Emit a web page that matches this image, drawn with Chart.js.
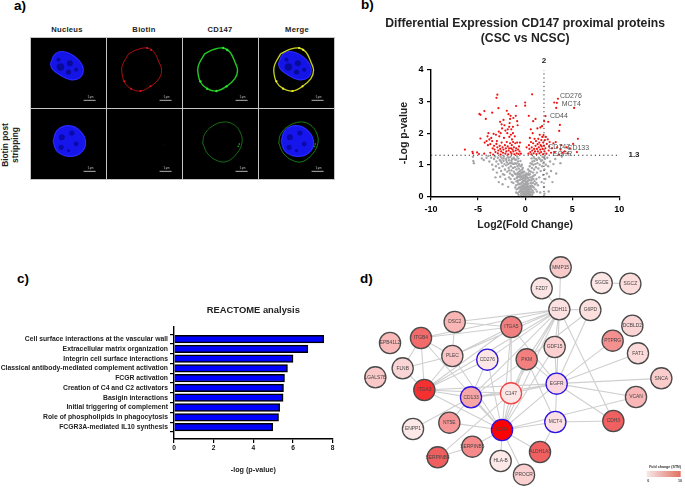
<!DOCTYPE html>
<html>
<head>
<meta charset="utf-8">
<title>CD147 proximal proteins</title>
<script src="https://cdn.jsdelivr.net/npm/chart.js@4"></script>
<style>
  html, body { margin: 0; background: #fff; }
  #page { position: relative; width: 685px; height: 488px; overflow: hidden; font-family: "Liberation Sans", Arial, sans-serif; color: #111; }
  canvas { position: absolute; }
  canvas.tile { filter: blur(0.35px); outline: 1px solid #c4c4c4; }
  .txt { position: absolute; font-weight: bold; white-space: nowrap; }
  .letter { font-size: 13.5px; color: #000; }
  .col { font-size: 7.6px; letter-spacing: 0.3px; transform: translateX(-50%); color: #222; }
  .side { font-size: 8.4px; text-align: center; line-height: 10px; transform: translate(-50%, -50%) rotate(-90deg); color: #222; }
</style>
</head>
<body>
<div id="page">
  <div class="txt letter" style="left:14px;top:-2px">a)</div>
  <div class="txt letter" style="left:361px;top:-3px">b)</div>
  <div class="txt letter" style="left:17px;top:271px">c)</div>
  <div class="txt letter" style="left:360px;top:271px">d)</div>
  <div class="txt col" style="left:67px;top:25px">Nucleus</div>
  <div class="txt col" style="left:144px;top:25px">Biotin</div>
  <div class="txt col" style="left:220px;top:25px">CD147</div>
  <div class="txt col" style="left:297px;top:25px">Merge</div>
  <div class="txt side" style="left:10px;top:145px">Biotin post<br>stripping</div>
  <canvas class="tile" id="t00" width="75" height="70" style="left:31px;top:38px"></canvas>
  <canvas class="tile" id="t01" width="75" height="70" style="left:107px;top:38px"></canvas>
  <canvas class="tile" id="t02" width="75" height="70" style="left:183px;top:38px"></canvas>
  <canvas class="tile" id="t03" width="75" height="70" style="left:259px;top:38px"></canvas>
  <canvas class="tile" id="t10" width="75" height="70" style="left:31px;top:109px"></canvas>
  <canvas class="tile" id="t11" width="75" height="70" style="left:107px;top:109px"></canvas>
  <canvas class="tile" id="t12" width="75" height="70" style="left:183px;top:109px"></canvas>
  <canvas class="tile" id="t13" width="75" height="70" style="left:259px;top:109px"></canvas>
  <canvas id="volcano" width="320" height="240" style="left:365px;top:0"></canvas>
  <canvas id="reactome" width="345" height="228" style="left:0;top:260px"></canvas>
  <canvas id="network" width="355" height="238" style="left:330px;top:250px"></canvas>
</div>
<script>
const sans = '"Liberation Sans", Arial, sans-serif';

const nucleusTop = [[58,77],[73,47],[103,42],[138,62],[156,92],[146,119],[118,125],[83,109],[63,92],[58,77]];
const nucleusTopSpots = [[88,87,3.8],[116,76,3],[112,102,2.6],[82,65,2],[135,95,2]];
const nucleusBottom = [[66,97],[78,64],[113,50],[148,67],[163,102],[148,132],[113,142],[78,127],[66,97]];
const nucleusBottomSpots = [[92,85,3],[122,72,2.6],[135,105,2.4],[90,115,2.6],[112,125,1.6]];
const ringTop = [[65,47],[90,35],[120,30],[140,42],[155,72],[163,97],[155,122],[130,145],[100,159],[72,152],[52,132],[44,97],[48,77],[65,47]];
const ringTopSpots = [[120,30],[132,36],[72,152],[100,159],[52,130],[130,145]];
const ringBottom = [[59,102],[64,77],[87,52],[122,39],[152,47],[172,72],[176,102],[162,132],[132,157],[102,155],[72,132],[59,102]];
const ringBottomSpots = [[168,105],[165,112]];
const biotinResidue = [[170,105]];
const scaleBarX = [157, 193];
const scaleBarY = [187, 187];
const scaleText = ['5 µm'];

// panel b: volcano, significant points (red) and the rest (grey)
const sigPoints = [
[-6.4,1.48],[-5.6,1.41],[-5.55,1.36],[-5.1,1.39],[-4.9,1.34],[-4.75,1.83],[-4.35,1.35],[-4.3,1.7],[-4.1,1.75],[-4,1.9],
[-3.9,2.0],[-3.95,1.62],[-3.8,1.8],[-3.7,1.65],[-3.6,1.85],[-3.5,1.75],[-3.45,1.52],[-3.7,1.38],[-3.4,1.32],[-3.3,1.6],
[-3.25,1.48],[-3.15,1.4],[-3.1,1.95],[-3.05,1.66],[-3,1.75],[-2.95,1.55],[-2.9,1.36],[-2.85,1.45],[-2.8,2.05],[-2.75,1.9],
[-2.7,1.6],[-2.65,1.5],[-2.6,1.32],[-2.55,1.42],[-2.5,1.7],[-2.45,2.15],[-2.4,1.55],[-2.35,1.38],[-2.3,1.48],[-2.25,1.85],
[-2.2,2.25],[-2.15,1.62],[-2.1,1.35],[-2.05,1.52],[-2,1.42],[-1.95,1.72],[-1.9,2.0],[-1.85,1.58],[-1.8,1.33],[-1.75,1.45],
[-1.7,1.52],[-1.68,1.88],[-1.65,2.32],[-1.6,1.68],[-1.55,1.4],[-1.52,1.95],[-1.5,1.52],[-1.47,2.12],[-1.45,1.35],[-1.42,1.62],
[-1.4,1.8],[-1.35,1.48],[-1.3,2.0],[-1.28,1.72],[-1.25,1.42],[-1.2,1.55],[-1.15,1.33],[-1.1,1.9],[-1.05,1.68],[-1,1.45],
[-0.95,1.52],[-0.9,1.36],[-0.85,1.7],[-0.8,2.25],[-0.75,1.48],[-0.7,1.34],[-0.65,1.58],[-0.6,1.42],[-0.55,1.7],[-0.45,1.35],
[-2.95,3.22],[-3.05,3.12],[-2.84,2.79],[-4.86,2.61],[-4.75,2.58],[-4.33,2.7],[-4.18,2.45],[-3.5,2.65],[-2.66,2.36],[-1.95,2.71],
[-1.77,2.6],[-0.96,2.86],[0,2.97],[0,2.87],[0.74,3.23],[0.39,2.55],[0.85,2.38],[2.16,2.54],[2.02,2.38],[2.45,2.36],
[3.09,2.97],[3.48,3.09],[3.37,2.96],[3.3,2.8],[5.2,2.8],[3.69,2.26],[3.62,2.07],[-2.5,2.28],[-2.3,2.42],[-2.1,2.08],
[-1.6,2.45],[-1.55,2.55],[-1.3,2.2],[-1.25,2.48],[-1,2.55],[-0.85,2.38],[-1.85,2.12],[-3.35,1.98],[-2.6,2.0],[-1.7,2.2],
[0.35,1.35],[0.4,1.62],[0.45,1.5],[0.5,1.85],[0.55,1.4],[0.6,2.12],[0.62,1.72],[0.65,1.33],[0.7,1.55],[0.75,1.45],
[0.8,2.0],[0.85,1.68],[0.9,1.36],[0.95,1.5],[1,1.82],[1.05,1.42],[1.1,1.6],[1.15,1.75],[1.2,1.34],[1.25,1.5],
[1.3,2.15],[1.32,1.65],[1.35,1.42],[1.4,1.82],[1.45,1.55],[1.5,1.7],[1.52,1.36],[1.55,1.95],[1.6,1.48],[1.62,2.18],
[1.65,1.62],[1.7,1.4],[1.72,1.78],[1.75,1.58],[1.8,2.22],[1.82,1.88],[1.85,1.5],[1.9,1.33],[1.92,1.7],[1.95,1.94],
[2,1.6],[2.05,1.42],[2.1,1.78],[2.15,1.52],[2.2,1.88],[2.25,1.35],[2.3,1.66],[2.4,1.8],[2.5,1.45],[2.55,1.58],
[2.6,1.72],[2.75,1.38],[2.85,1.52],[3,1.68],[3.15,1.4],[3.25,1.72],[3.4,1.55],[3.6,1.32],[3.75,1.48],[3.85,1.62],
[3.95,1.38],[4.2,1.42],[4.5,1.36],[4.75,1.52],[5.1,1.66],[5.6,1.82],[5.5,1.4],[4.4,1.55],[1.1,2.45],[0.15,1.55]
];
const otherPoints = [
[-5.55,1.25],[-5.5,1.12],[-5.45,1.05],[-4.6,1.2],[-4.4,1.15],[-4.1,1.22],[-3.9,1.28],[-3.8,1.1],[-3.6,1.22],[-3.5,1.0],
[-3.4,0.85],[-3.3,1.18],[-3.2,1.26],[-3.1,0.95],[-3.05,1.1],[-3,0.75],[-2.9,1.22],[-2.85,1.02],[-2.75,0.9],[-2.7,1.15],
[-2.65,0.62],[-2.6,1.25],[-2.55,0.8],[-2.5,1.06],[-2.45,1.2],[-2.4,0.95],[-2.35,0.7],[-2.3,1.12],[-2.25,1.26],[-2.2,1.02],
[-2.15,0.85],[-2.1,0.55],[-2.05,1.18],[-2,0.98],[-1.95,1.08],[-1.9,0.78],[-1.85,1.24],[-1.8,1.02],[-1.75,0.9],[-1.72,0.6],
[-1.7,1.14],[-1.65,1.05],[-1.6,0.72],[-1.55,1.25],[-1.52,0.95],[-1.5,1.05],[-1.45,0.82],[-1.42,0.45],[-1.4,1.18],[-1.35,1.04],
[-1.32,0.65],[-1.3,0.9],[-1.25,1.02],[-1.22,1.22],[-1.2,0.78],[-1.15,1.04],[-1.12,0.55],[-1.1,0.92],[-1.05,1.16],[-1,1.04],
[-0.98,0.7],[-0.95,0.35],[-0.92,0.85],[-0.9,1.04],[-0.88,0.58],[-0.85,1.26],[-0.82,0.95],[-0.8,0.45],[-0.78,0.75],[-0.75,1.1],
[-0.72,0.25],[-0.7,0.62],[-0.68,0.88],[-0.65,1.02],[-0.62,0.4],[-0.6,0.7],[-0.58,0.15],[-0.55,0.52],[-0.52,0.82],[-0.5,1.12],
[-0.48,0.3],[-0.46,0.62],[-0.44,0.95],[-0.42,0.08],[-0.4,0.42],[-0.38,0.72],[-0.36,0.22],[-0.34,0.55],[-0.32,0.85],[-0.3,0.12],
[-0.28,0.35],[-0.26,0.65],[-0.24,0.48],[-0.22,0.05],[-0.2,0.25],[-0.18,0.75],[-0.16,0.4],[-0.14,0.58],[-0.12,0.15],[-0.1,0.32],
[-0.08,0.03],[-0.06,0.5],[-0.04,0.22],[-0.02,0.68],[0,0.1],[0.02,0.38],[0.04,0.02],[0.06,0.55],[0.08,0.18],[0.1,0.3],
[0.12,0.72],[0.14,0.06],[0.16,0.44],[0.18,0.25],[0.2,0.14],[0.22,0.6],[0.24,0.34],[0.26,0.02],[0.28,0.5],[0.3,0.2],
[0.32,0.85],[0.34,0.1],[0.36,0.4],[0.38,0.28],[0.4,0.68],[0.42,0.04],[0.44,0.16],[0.46,0.52],[0.48,0.95],[0.5,0.32],
[0.52,0.1],[0.54,0.6],[0.56,0.22],[0.58,1.05],[0.6,0.42],[0.62,0.78],[0.64,0.14],[0.66,0.5],[0.68,1.2],[0.7,0.3],
[0.72,0.9],[0.74,0.05],[0.76,0.62],[0.78,1.1],[0.8,0.18],[0.82,0.42],[0.84,0.75],[0.86,1.0],[0.88,0.55],[0.9,1.25],
[0.92,0.28],[0.95,0.85],[0.98,1.12],[1,0.48],[1.05,0.68],[1.08,1.02],[1.1,0.22],[1.15,0.92],[1.18,1.18],[1.2,0.55],
[1.25,0.75],[1.3,1.05],[1.35,0.35],[1.4,0.88],[1.45,1.22],[1.5,0.6],[1.55,1.0],[1.6,0.12],[1.65,0.8],[1.7,1.12],
[1.75,0.45],[1.8,0.95],[1.85,1.25],[1.9,0.68],[1.95,1.05],[2,0.3],[2.05,0.85],[2.1,1.18],[2.15,0.55],[2.2,1.0],
[2.3,0.72],[2.35,1.22],[2.45,0.95],[2.5,0.15],[2.55,0.62],[2.65,1.1],[2.75,0.8],[2.9,0.45],[3,1.02],[3.2,1.18],
[3.3,0.72],[3.75,1.05],[3.9,1.26],[2.05,0.08],[-0.6,0.98],[-0.95,0.12],[-1.25,0.42],[-1.55,0.55],[-1.8,0.3],[-2.4,0.38],
[-3.15,0.6],[-2.8,0.45],[-0.35,1.0],[-0.25,0.9],[-0.7,0.05],[-0.5,0.18],[-0.45,0.02],[-0.3,0.45],[-0.15,0.08],[-0.05,0.14],
[0.05,0.28],[0.15,0.12],[0.25,0.4],[0.35,0.06],[0.45,0.24],[0.55,0.02],[0.65,0.34],[0.75,0.12],[-0.65,0.28],[-0.55,0.38],
[-0.4,0.58],[-0.2,0.62],[-0.1,0.78],[0,0.48],[0.1,0.64],[0.2,0.46],[0.3,0.58],[0.4,0.5],[-0.75,0.5],[-0.85,0.7],
[-0.35,0.14],[-0.25,0.26],[-0.15,0.3],[-0.05,0.38],[0.05,0.1],[0.15,0.32],[0.25,0.22],[0.35,0.3],[-0.45,0.3],[-0.55,0.6],
[-0.62,0.78],[-0.18,0.5],[-0.02,0.26],[0.08,0.42],[0.28,0.1],[0.5,0.7],[0.7,0.55],[0.9,0.65],[1.05,0.38],[1.25,0.15],
[-0.9,0.22],[-0.8,0.1],[-0.72,0.38],[-0.62,0.14],[-0.52,0.25],[-0.42,0.2],[-0.32,0.32],[-0.22,0.16],[-0.12,0.24],[-0.02,0.05],
[0.08,0.08],[0.18,0.36],[0.28,0.28],[0.38,0.16],[0.48,0.06],[0.58,0.3],[0.68,0.22],[0.78,0.32],[0.88,0.12],[-0.92,0.48],
[-0.82,0.62],[-0.72,0.7],[-0.52,0.66],[-0.42,0.75],[-0.28,0.78],[-0.12,0.66],[0.02,0.6],[0.18,0.68],[0.34,0.72],[0.44,0.8],
[-2.6,1.12],[-2.3,1.2],[-2,1.15],[-1.75,1.22],[-1.45,1.12],[-1.15,1.18],[-0.95,1.16],[-0.72,1.2],[0.7,1.02],[1,1.2],
[1.25,1.15],[1.55,1.18],[1.8,1.14],[2.05,1.25],[-1.1,0.72],[-1.4,0.68],[-1.7,0.82],[-2.2,0.68],[-1.05,0.28],[1.2,0.42]
];
const thresholdFoldX = [2, 2];
const thresholdFoldY = [0, 4];
const thresholdPX = [-10, 10];
const thresholdPY = [1.3, 1.3];
const geneNames = ['CD276', 'MCT4', 'CD44', 'CD147', 'CD133', 'EGFR'];
const geneX = [3.7, 3.89, 2.64, 2.46, 4.48, 2.93];
const geneY = [3.19, 2.91, 2.53, 1.57, 1.54, 1.34];
const thresholdText = ['2', '1.3'];
const thresholdTextX = [2, 11.56];
const thresholdTextY = [4.3, 1.3];
const volcanoTitle = ['Differential Expression CD147 proximal proteins', '(CSC vs NCSC)'];
const volcanoTitleX = [0, 0];
const volcanoTitleY = [5.46, 5.0];

// panel c: REACTOME pathways
const pathways = [
  'Cell surface interactions at the vascular wall',
  'Extracellular matrix organization',
  'Integrin cell surface interactions',
  'Classical antibody-mediated complement activation',
  'FCGR activation',
  'Creation of C4 and C2 activators',
  'Basigin interactions',
  'Initial triggering of complement',
  'Role of phospholipids in phagocytosis',
  'FCGR3A-mediated IL10 synthesis'
];
const pathwayValues = [7.55, 6.75, 6.0, 5.72, 5.57, 5.52, 5.5, 5.33, 5.27, 4.98];

// panel d: protein network
const nodeNames = ['MMP15','FZD7','SGCE','SGCZ','CDH11','G6PD','DCBLD2','DSC2','ITGA5','ITGB4','EPB41L2','GDF15','PTPRG','FAT1','PLEC','CD276','PKM','FLNB','LGALS7B','SNCA','EGFR','C147','CD133','ITGA3','VCAN','NT5E','MCT4','CD44','ENPP1','CDH3','SERPINB5','SERPINB4','ALDH1A3','HLA-B','PROCR'];
const nodeX = [692,635,815,901,688,781,907,374,544,273,180,674,848,924,367,472,590,218,136,994,680,543,423,283,918,358,676,516,249,850,427,323,630,512,582];
const nodeY = [52,115,99,101,178,180,227,216,231,264,279,291,272,310,318,329,328,355,382,385,401,430,442,420,441,518,516,540,537,513,590,622,606,633,674];
const nodeFill = ['#f9caca','#fde4e4','#fde6e6','#fddcdc','#fde0e0','#fde0de','#fbd5d5','#fab5b5','#f27f7f','#f26a6a','#f9b9b9','#fcd0d0','#f59090','#fcdada','#fbc4c4','#fde6e6','#f47f7f','#fad5d5','#fbc8c8','#fbcccc','#fbd6e0','#fde6e6','#f7a6a6','#f43030','#f9b6b6','#f59595','#fde0e4','#ff0000','#fde8e8','#f06060','#f68a8a','#f05f5f','#f06060','#fde8e8','#fad0d0'];
const blueBorder = ['CD276','EGFR','CD133','MCT4','CD44'];
const redBorder = ['C147'];
const edges = [
  ['MMP15','CDH11'],['FZD7','CDH11'],['SGCE','SGCZ'],['CDH11','G6PD'],['CDH11','GDF15'],['CDH11','ITGA5'],['CDH11','DSC2'],['CDH11','ITGB4'],
  ['CDH11','ITGA3'],['CDH11','CD133'],['CDH11','C147'],['CDH11','CD44'],['CDH11','EGFR'],['CDH11','CDH3'],['CDH11','PKM'],['CDH11','CD276'],['CDH11','PLEC'],
  ['G6PD','EGFR'],['G6PD','PKM'],['GDF15','EGFR'],['GDF15','CD44'],['ITGA5','ITGB4'],['ITGA5','DSC2'],['ITGA5','PLEC'],['ITGA5','ITGA3'],['ITGA5','EGFR'],
  ['ITGA5','C147'],['ITGA5','CD44'],['ITGB4','PLEC'],['ITGB4','ITGA3'],['ITGB4','FLNB'],['ITGB4','CD44'],['DSC2','PLEC'],['PLEC','FLNB'],['PLEC','ITGA3'],
  ['PLEC','CD44'],['FLNB','ITGA3'],['ITGA3','CD276'],['ITGA3','CD133'],['ITGA3','C147'],['ITGA3','EGFR'],['ITGA3','CD44'],['CD276','CD133'],['CD276','CD44'],
  ['CD133','C147'],['CD133','EGFR'],['CD133','CD44'],['CD133','NT5E'],['CD133','ENPP1'],['NT5E','CD44'],['PKM','EGFR'],['PKM','C147'],['PKM','CD44'],
  ['PKM','MCT4'],['PKM','CD133'],['C147','EGFR'],['C147','CD44'],['EGFR','CD44'],['EGFR','MCT4'],['EGFR','CDH3'],['PTPRG','EGFR'],['FAT1','EGFR'],
  ['SNCA','EGFR'],['VCAN','EGFR'],['VCAN','CD44'],['MCT4','CD44'],['MCT4','CDH3'],['MCT4','ALDH1A3'],['CD44','ALDH1A3'],['CD44','HLA-B'],['CD44','SERPINB5'],
  ['CD44','PROCR'],['SERPINB5','SERPINB4'],['SERPINB4','C147']
];
const foldLegendX = [950, 1052];
const foldLegendY = [672, 672];
const foldLegendText = ['Fold change (STN)', '0', '10'];
const foldLegendTextX = [1005, 955, 1050];
const foldLegendTextY = [650, 693, 693];

// writes short texts at data positions
function textPlugin(names, xs, ys, font, color, align) {
  return {
    id: 'textPlugin',
    afterDatasetsDraw(chart) {
      const ctx = chart.ctx;
      ctx.save();
      ctx.font = font;
      ctx.fillStyle = color;
      ctx.textAlign = align;
      ctx.textBaseline = 'middle';
      names.forEach((name, i) => {
        ctx.fillText(name, chart.scales.x.getPixelForValue(xs[i]), chart.scales.y.getPixelForValue(ys[i]));
      });
      ctx.restore();
    }
  };
}

const blackBackground = {
  id: 'blackBackground',
  beforeDraw(chart) {
    chart.ctx.fillStyle = '#000';
    chart.ctx.fillRect(0, 0, chart.width, chart.height);
  }
};

const toXY = pts => pts.map(p => ({ x: p[0], y: p[1] }));

function shape(pts, fillColor, edgeColor, width) {
  return { type: 'line', data: toXY(pts), tension: 0.4, pointRadius: 0, borderColor: edgeColor, borderWidth: width, backgroundColor: fillColor, fill: fillColor ? 'shape' : false };
}
function spots(pts, color, radius) {
  return { type: 'scatter', data: pts.map(p => ({ x: p[0], y: p[1] })), pointRadius: pts.map(p => p[2] || radius), backgroundColor: color, borderWidth: 0 };
}

function tile(id, layers) {
  const bar = { type: 'line', data: scaleBarX.map((x, i) => ({ x, y: scaleBarY[i] })), borderColor: '#ddd', borderWidth: 0.8, pointRadius: 0 };
  new Chart(document.getElementById(id), {
    data: { datasets: layers.concat([bar]).map((d, i) => Object.assign(d, { order: -i })) },
    options: {
      responsive: false, animation: false, parsing: false,
      layout: { autoPadding: false },
      plugins: { legend: { display: false }, tooltip: { enabled: false } },
      scales: {
        x: { type: 'linear', min: 0, max: 224, display: false },
        y: { type: 'linear', min: 0, max: 210, reverse: true, display: false }
      }
    },
    plugins: [blackBackground, textPlugin(scaleText, [178], [179], '2.6px ' + sans, '#ccc', 'center')]
  });
}

const nucleusBlueTop = () => [shape(nucleusTop, '#1414e6', '#2a2aff', 1.1), spots(nucleusTopSpots, '#0a0a9a')];
const nucleusBlueBottom = () => [shape(nucleusBottom, '#1616ec', '#2a2aff', 1.1), spots(nucleusBottomSpots, '#0a0aa8')];

tile('t00', nucleusBlueTop());
tile('t01', [shape(ringTop, null, '#c01212', 0.9), spots(ringTopSpots, '#e01818', 1)]);
tile('t02', [shape(ringTop, null, '#22c822', 1.4), spots(ringTopSpots, '#30e030', 1.2)]);
tile('t03', nucleusBlueTop().concat([shape(ringTop, null, '#c8d020', 1.3), spots(ringTopSpots, '#f0f030', 1.1)]));
tile('t10', nucleusBlueBottom());
tile('t11', [spots(biotinResidue, '#4a0808', 0.5)]);
tile('t12', [shape(ringBottom, null, '#1a8a1a', 0.8), spots(ringBottomSpots, '#2ab02a', 0.8)]);
tile('t13', nucleusBlueBottom().concat([shape(ringBottom, null, '#1a8a1a', 0.9), spots(ringBottomSpots, '#2ab02a', 0.8)]));

// shared look of the black Prism-style axes
function prismAxis(extra) {
  return Object.assign({
    type: 'linear',
    border: { color: '#000', width: 1.4 },
    grid: { display: true, drawOnChartArea: false, drawTicks: true, tickLength: 4, color: '#000', lineWidth: 1.2 }
  }, extra);
}

new Chart(document.getElementById('volcano'), {
  data: {
    datasets: [
      { type: 'line', label: 'threshold fold', data: thresholdFoldX.map((x, i) => ({ x, y: thresholdFoldY[i] })), borderColor: '#333', borderWidth: 1, borderDash: [1.2, 3], pointRadius: 0, order: 1 },
      { type: 'line', label: 'threshold p', data: thresholdPX.map((x, i) => ({ x, y: thresholdPY[i] })), borderColor: '#333', borderWidth: 1, borderDash: [1.2, 3], pointRadius: 0, order: 2 },
      { type: 'scatter', label: 'significant', data: toXY(sigPoints), pointRadius: 1.1, backgroundColor: '#f01414', borderWidth: 0, order: 3 },
      { type: 'scatter', label: 'other', data: toXY(otherPoints), pointRadius: 1.2, backgroundColor: '#a6a6a8', borderWidth: 0, order: 4 }
    ]
  },
  options: {
    responsive: false, animation: false,
    layout: { autoPadding: false, padding: { left: 26, right: 65.7, bottom: 8.7, top: 70 } },
    plugins: { legend: { display: false }, tooltip: { enabled: false } },
    scales: {
      x: prismAxis({
        min: -10, max: 10,
        ticks: { color: '#000', font: { family: sans, weight: 'bold', size: 9 }, padding: 4, maxRotation: 0, stepSize: 5 },
        title: { display: true, text: 'Log2(Fold Change)', color: '#222', font: { family: sans, weight: 'bold', size: 10.5 }, padding: { top: 3, bottom: 0 } },
        afterFit: s => { s.height = 35; }
      }),
      y: prismAxis({
        min: 0, max: 4,
        ticks: { color: '#000', font: { family: sans, weight: 'bold', size: 9 }, padding: 3.5, stepSize: 1 },
        title: { display: true, text: '-Log p-value', color: '#222', font: { family: sans, weight: 'bold', size: 10.5 }, padding: { top: 7, bottom: 5 } },
        afterFit: s => { s.width = 40; }
      })
    }
  },
  plugins: [
    textPlugin(geneNames, geneX, geneY, '7px ' + sans, '#555', 'left'),
    textPlugin(thresholdText, thresholdTextX, thresholdTextY, 'bold 8px ' + sans, '#222', 'center'),
    textPlugin(volcanoTitle, volcanoTitleX, volcanoTitleY, 'bold 12.2px ' + sans, '#222', 'center')
  ]
});

new Chart(document.getElementById('reactome'), {
  type: 'bar',
  data: {
    datasets: [{
      data: pathwayValues.map((v, i) => ({ x: v, y: i })),
      backgroundColor: '#0000ff', borderColor: '#000', borderWidth: 1.5, barThickness: 7.6
    }]
  },
  options: {
    responsive: false, animation: false, indexAxis: 'y',
    layout: { autoPadding: false, padding: { left: 0, right: 12.3, bottom: 14, top: 0 } },
    plugins: {
      legend: { display: false }, tooltip: { enabled: false },
      title: {
        display: true, text: 'REACTOME analysis', fullSize: false, color: '#222',
        font: { family: sans, weight: 'bold', size: 9.4, lineHeight: 1.2 },
        padding: { top: 44.3, bottom: 11.1 }
      }
    },
    scales: {
      x: prismAxis({
        min: 0, max: 8,
        ticks: { color: '#111', font: { family: sans, weight: 'bold', size: 6.6 }, padding: 1, maxRotation: 0, stepSize: 2 },
        title: { display: true, text: '-log (p-value)', color: '#222', font: { family: sans, weight: 'bold', size: 7.2 }, padding: { top: 5, bottom: 0 } },
        afterFit: s => { s.height = 35; }
      }),
      y: prismAxis({
        reverse: true, min: -0.7, max: 9.65,
        afterBuildTicks: s => { s.ticks = pathways.map((p, i) => ({ value: i })); },
        ticks: {
          color: '#222', font: { family: sans, weight: 'bold', size: 6.8 }, padding: 2, autoSkip: false,
          callback: value => pathways[value]
        },
        afterFit: s => { s.width = 174; }
      })
    }
  }
});

const nodeIndex = name => nodeNames.indexOf(name);
const edgePath = [];
edges.forEach(e => {
  const a = nodeIndex(e[0]), b = nodeIndex(e[1]);
  edgePath.push({ x: nodeX[a], y: nodeY[a] }, { x: nodeX[b], y: nodeY[b] }, { x: nodeX[a], y: NaN });
});

new Chart(document.getElementById('network'), {
  data: {
    datasets: [
      {
        type: 'scatter', label: 'proteins', data: nodeNames.map((n, i) => ({ x: nodeX[i], y: nodeY[i] })),
        pointRadius: 10.6, pointBorderWidth: 1.3, order: 1,
        pointBackgroundColor: nodeFill,
        pointBorderColor: nodeNames.map(n => blueBorder.includes(n) ? '#2a14e0' : redBorder.includes(n) ? '#f04545' : '#4a4a4a')
      },
      { type: 'line', label: 'links', data: edgePath, borderColor: '#cfcfcf', borderWidth: 1.1, pointRadius: 0, spanGaps: false, order: 2 },
      {
        type: 'line', label: 'fold change', data: foldLegendX.map((x, i) => ({ x, y: foldLegendY[i] })), pointRadius: 0, borderWidth: 6, order: 3,
        borderColor: ctx => {
          const g = ctx.chart.ctx.createLinearGradient(foldLegendX[0] / 3, 0, foldLegendX[1] / 3, 0);
          g.addColorStop(0, '#f6e8e8');
          g.addColorStop(1, '#e2705f');
          return g;
        }
      }
    ]
  },
  options: {
    responsive: false, animation: false,
    layout: { autoPadding: false },
    plugins: { legend: { display: false }, tooltip: { enabled: false } },
    scales: {
      x: { type: 'linear', min: 0, max: 1065, display: false },
      y: { type: 'linear', min: 0, max: 714, reverse: true, display: false }
    }
  },
  plugins: [
    textPlugin(nodeNames, nodeX, nodeY, '4.9px ' + sans, '#444', 'center'),
    textPlugin(foldLegendText, foldLegendTextX, foldLegendTextY, 'bold 3.6px ' + sans, '#333', 'center')
  ]
});
</script>
</body>
</html>
